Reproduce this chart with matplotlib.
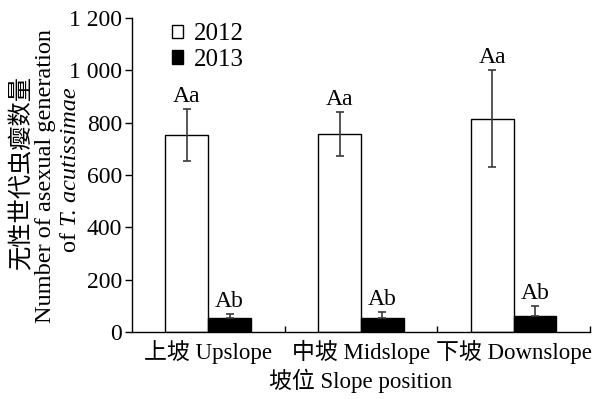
import numpy as np
import matplotlib.pyplot as plt
from matplotlib.ticker import FixedLocator, FuncFormatter

plt.rcParams['font.family'] = ['Liberation Serif', 'Noto Sans CJK SC']

slopes = ['上坡 Upslope', '中坡 Midslope', '下坡 Downslope']
years = ['2012', '2013']
mean_2012 = [752, 757, 815]
err_2012 = [100, 85, 185]
mean_2013 = [52, 53, 62]
err_2013 = [17, 23, 37]
letters_2012 = ['Aa', 'Aa', 'Aa']
letters_2013 = ['Ab', 'Ab', 'Ab']

fig = plt.figure(figsize=(6.02, 3.99), dpi=100)
ax = fig.add_axes([0.219, 0.168, 0.761, 0.787])

x = np.arange(len(slopes)) + 0.5
w = 0.28
ecol = '#3a3a3a'

ax.bar(x - w, mean_2012, w, align='edge', color='white', edgecolor='black',
       linewidth=1.0, label=years[0], zorder=2)
ax.bar(x, mean_2013, w, align='edge', color='black', edgecolor='black',
       linewidth=1.0, label=years[1], zorder=2)
ax.errorbar(x - w / 2, mean_2012, yerr=err_2012, fmt='none', ecolor=ecol,
            elinewidth=1.2, capsize=3, capthick=1.2, zorder=3)
ax.errorbar(x + w / 2, mean_2013, yerr=[np.zeros(3), err_2013], fmt='none',
            ecolor=ecol, elinewidth=1.2, capsize=3, capthick=1.2, zorder=3)

for xi, m, e, t in zip(x - w / 2, mean_2012, err_2012, letters_2012):
    ax.text(xi, m + e + 8, t, ha='center', va='bottom', fontsize=17)
for xi, m, e, t in zip(x + w / 2, mean_2013, err_2013, letters_2013):
    ax.text(xi, m + e + 8, t, ha='center', va='bottom', fontsize=17)

ax.set_xlim(0, 3)
ax.set_ylim(0, 1200)
ax.spines['top'].set_visible(False)
ax.spines['right'].set_visible(False)
ax.spines['left'].set_linewidth(1.0)
ax.spines['bottom'].set_linewidth(1.0)

ax.set_yticks(np.arange(0, 1201, 200))
ax.yaxis.set_major_formatter(FuncFormatter(
    lambda v, p: f'{int(v):,}'.replace(',', ' ')))
ax.tick_params(axis='y', direction='out', length=5, width=1.0,
               labelsize=17, pad=2)

ax.xaxis.set_major_locator(FixedLocator([1, 2, 3]))
ax.xaxis.set_minor_locator(FixedLocator(x))
ax.set_xticklabels([])
ax.set_xticklabels(slopes, minor=True)
ax.tick_params(axis='x', which='major', direction='in', length=4, width=1.0)
ax.tick_params(axis='x', which='minor', length=0, labelsize=16.5, pad=6)

ax.set_xlabel('坡位 Slope position', fontsize=16.5, labelpad=3)

# three-line y label: Chinese, English, species name
fig.text(0.037, 0.566, '无性世代虫瘿数量', rotation=90, ha='center',
         va='center', fontsize=17.5)
fig.text(0.076, 0.558, 'Number of asexual generation', rotation=90,
         ha='center', va='center', fontsize=17.5)
fig.text(0.117, 0.433, 'of ', rotation=90, ha='center', va='top',
         fontsize=17.5)
fig.text(0.117, 0.433, 'T. acutissimae', rotation=90, ha='center',
         va='bottom', fontsize=17.5, style='italic')

ax.legend(loc='upper left', bbox_to_anchor=(0.065, 1.015), frameon=False,
          fontsize=18, handlelength=0.45, handleheight=0.45,
          handletextpad=0.45, labelspacing=0.15, borderaxespad=0)

fig.savefig('out.png', dpi=100)
